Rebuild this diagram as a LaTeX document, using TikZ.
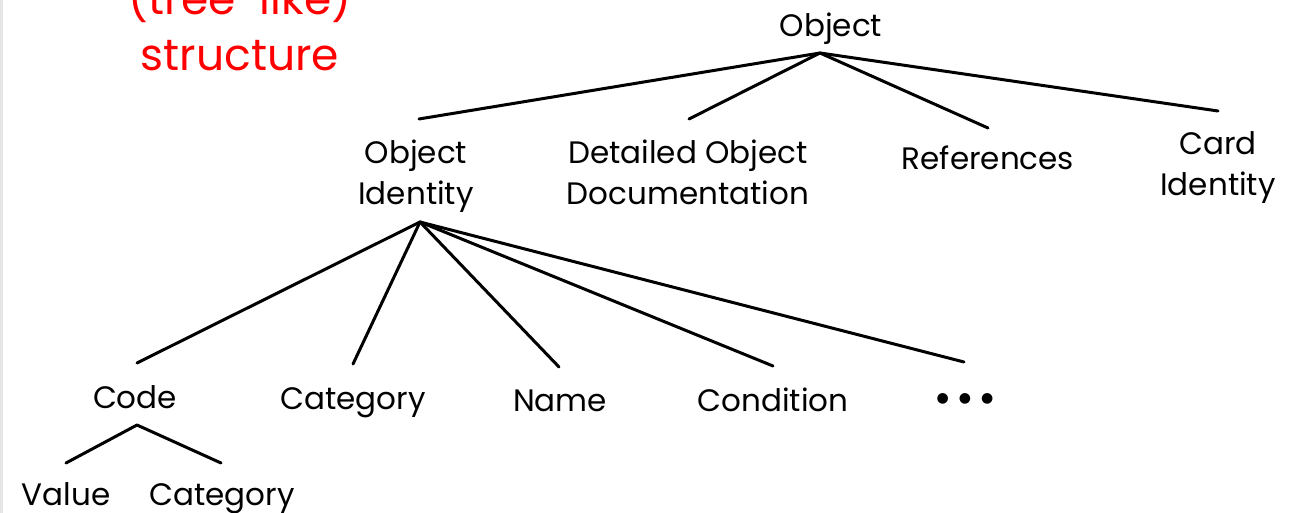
\documentclass[tikz,border=0pt]{standalone}
\usepackage{fontspec}
\setmainfont{Poppins}
\newfontfamily\dvsans{DejaVu Sans}
\begin{document}
\begin{tikzpicture}[x=1bp,y=-1bp,
  lbl/.style={inner sep=0pt, anchor=base, font=\fontsize{31bp}{41bp}\selectfont, text=black},
  lbl2/.style={lbl, align=center},
  redlbl/.style={inner sep=0pt, anchor=base, font=\fontsize{44bp}{56bp}\selectfont, text=red},
  edge/.style={draw=black, line width=3bp, line cap=round}]
\useasboundingbox (0,0) rectangle (1299,513);
\fill[white] (0,0) rectangle (1299,513);
\draw[black!10, line width=2bp] (1.5,0) -- (1.5,513);
% red heading
\node[redlbl] (t1) at (240,15) {(tree-like)};
\node[redlbl] (t2) at (240,71) {structure};
% nodes (two-line nodes: base = baseline of last line)
\node[lbl] (obj) at (831,37) {Object};
\node[lbl2] (oid) at (416,205) {Object\\Identity};
\node[lbl2] (doc) at (688,205) {Detailed Object\\Documentation};
\node[lbl] (ref) at (988,170) {References};
\node[lbl2] (card) at (1218,196) {Card\\Identity};
\node[lbl] (code) at (135,408) {Code};
\node[lbl] (cat) at (353,409) {Category};
\node[lbl] (name) at (560,411) {Name};
\node[lbl] (cond) at (773,411) {Condition};
\node[lbl, font=\dvsans\fontsize{14bp}{41bp}\selectfont] (dots) at (965,402) {●\hspace{10bp}●\hspace{10bp}●};
\node[lbl] (val) at (66,505) {Value};
\node[lbl] (cat2) at (222,505) {Category};
% connector points
\coordinate (objB) at (820,53);
\coordinate (oidT) at (419,119);
\coordinate (docT) at (689,119);
\coordinate (refT) at (988,128);
\coordinate (cardT) at (1218,111);
\coordinate (oidB) at (420,222);
\coordinate (codeT) at (137,363);
\coordinate (catT) at (353,364);
\coordinate (nameT) at (559,367);
\coordinate (condT) at (773,366);
\coordinate (dotsT) at (964,362);
\coordinate (codeB) at (137,425);
\coordinate (valT) at (66,463);
\coordinate (cat2T) at (221,463);
% connectors
\foreach \t in {oidT,docT,refT,cardT} \draw[edge] (objB) -- (\t);
\foreach \t in {codeT,catT,nameT,condT,dotsT} \draw[edge] (oidB) -- (\t);
\foreach \t in {valT,cat2T} \draw[edge] (codeB) -- (\t);
\end{tikzpicture}
\end{document}
